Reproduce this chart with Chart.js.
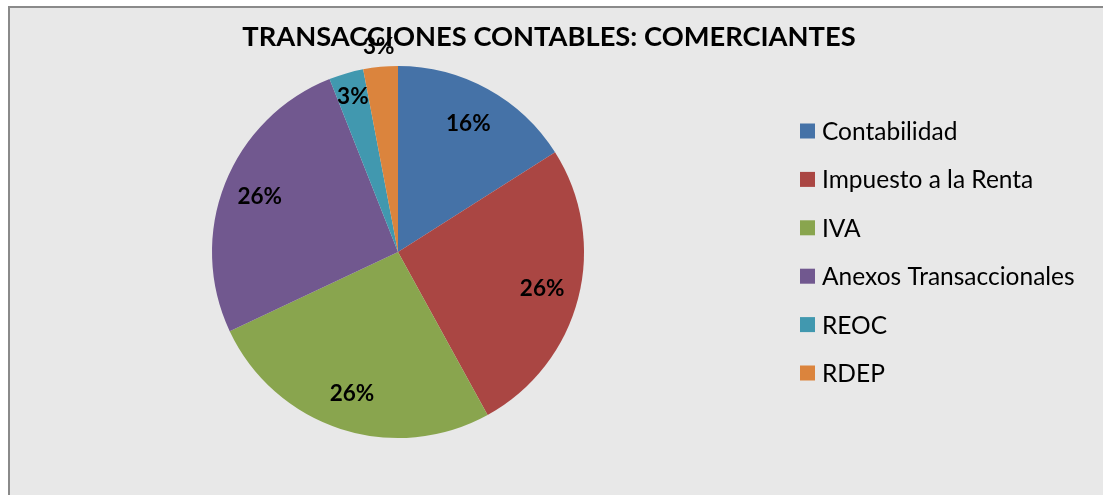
<!DOCTYPE html>
<html>
  <head>
    <script src="https://cdn.jsdelivr.net/npm/chart.js"></script>
    <title>Transacciones contables</title>
    <style>
      html, body { margin: 0; padding: 0; background: #ffffff; overflow: hidden; }
      #marco {
        position: absolute;
        left: 8px;
        top: 6px;
        width: 1200px;
        height: 600px;
        background: #e8e8e8;
        border-left: 2px solid #8a8a8a;
        border-top: 2px solid #8a8a8a;
      }
      #grafico {
        position: absolute;
        left: 0;
        top: 0;
      }
    </style>
  </head>
  <body>
    <div id="marco"></div>
    <canvas id="grafico" width="1103" height="495"></canvas>
    <script>
      // datos
      const categorias = ["Contabilidad", "Impuesto a la Renta", "IVA", "Anexos Transaccionales", "REOC", "RDEP"];
      const porcentajes = [16, 26, 26, 26, 3, 3];
      const colores = ["#4572a7", "#aa4643", "#89a54e", "#71588f", "#4198af", "#db843d"];
      const titulo = "TRANSACCIONES CONTABLES: COMERCIANTES";

      // distancia de cada etiqueta al centro (fraccion del radio)
      const radioEtiqueta = [0.785, 0.8, 0.8, 0.8, 0.87, 1.107];

      const FUENTE = "Lato, 'Noto Sans', sans-serif";

      /* titulo centrado en todo el marco */
      const cabecera = {
        id: "cabecera",
        afterDraw(chart) {
          const ctx = chart.ctx;
          ctx.save();
          ctx.font = "bold 27.3px " + FUENTE;
          ctx.fillStyle = "#000000";
          ctx.textAlign = "center";
          ctx.textBaseline = "middle";
          ctx.fillText(titulo, 549, 37);
          ctx.restore();
        }
      };

      /* etiquetas de porcentaje sobre cada porcion */
      const etiquetas = {
        id: "etiquetas",
        afterDatasetsDraw(chart) {
          const ctx = chart.ctx;
          const meta = chart.getDatasetMeta(0);
          ctx.save();
          ctx.font = "bold 22.5px " + FUENTE;
          ctx.fillStyle = "#000000";
          ctx.textAlign = "center";
          ctx.textBaseline = "middle";
          meta.data.forEach((arco, i) => {
            const p = arco.getProps(["x", "y", "startAngle", "endAngle", "outerRadius"], true);
            const medio = (p.startAngle + p.endAngle) / 2;
            const r = p.outerRadius * radioEtiqueta[i];
            ctx.fillText(porcentajes[i] + "%", p.x + Math.cos(medio) * r, p.y + Math.sin(medio) * r);
          });
          ctx.restore();
        }
      };

      /* leyenda a la derecha */
      const leyenda = {
        id: "leyenda",
        afterDraw(chart) {
          const ctx = chart.ctx;
          ctx.save();
          ctx.font = "24.5px " + FUENTE;
          ctx.textBaseline = "middle";
          ctx.textAlign = "left";
          categorias.forEach((nombre, i) => {
            const y = 131 + i * 48.4;
            ctx.fillStyle = colores[i];
            ctx.fillRect(800, y - 7.5, 15, 15);
            ctx.fillStyle = "#000000";
            ctx.fillText(nombre, 822, y + 1);
          });
          ctx.restore();
        }
      };

      const chartCtx = document.getElementById("grafico").getContext("2d");
      new Chart(chartCtx, {
        type: "pie",
        data: {
          labels: categorias,
          datasets: [
            {
              data: porcentajes,
              backgroundColor: colores,
              borderWidth: 0
            }
          ]
        },
        options: {
          responsive: false,
          animation: false,
          layout: {
            padding: { left: 0, right: 307, top: 66, bottom: 57 }
          },
          plugins: {
            legend: { display: false },
            tooltip: { enabled: false },
            title: { display: false }
          }
        },
        plugins: [etiquetas, leyenda, cabecera]
      });
    </script>
  </body>
</html>
